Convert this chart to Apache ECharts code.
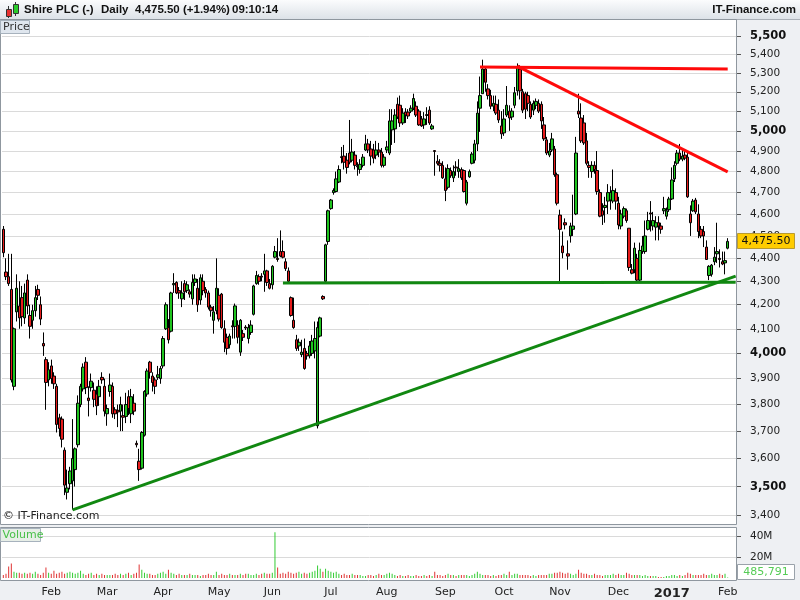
<!DOCTYPE html>
<html><head><meta charset="utf-8">
<script src="https://cdn.jsdelivr.net/npm/echarts@6/dist/echarts.min.js"></script>
<style>html,body{margin:0;padding:0;background:#eef0f3}#c{width:800px;height:600px}</style>
</head><body><div id="c"></div>
<script>
// ---- DATA ----
// rows: [open, close, low, high], one per trading day starting 2016-01-06
const ohlc = [
[4530,4425,4405,4545],[4340,4320,4305,4400],[4320,4290,4280,4420],[4265,3895,3885,4420],[3870,4100,3855,4105],
[4170,4270,4130,4330],[4195,4145,4100,4300],[4230,4150,4110,4280],[4145,4250,4120,4290],[4305,4195,4160,4330],
[4155,4110,4060,4200],[4135,4175,4100,4200],[4175,4230,4150,4280],[4265,4240,4220,4285],[4200,4140,4115,4235],
[4040,4030,3990,4085],[3975,3885,3780,3985],[3895,3935,3870,3965],[3950,3900,3880,3975],[3910,3880,3860,3925],
[3870,3725,3695,3880],[3750,3710,3680,3765],[3745,3670,3640,3755],[3630,3505,3470,3640],[3480,3495,3455,3560],
[3510,3555,3490,3570],[3520,3600,3420,3745],[3560,3635,3500,3640],[3650,3805,3640,3835],[3800,3870,3790,3880],
[3860,3945,3850,3960],[3965,3865,3840,3985],[3825,3815,3755,3870],[3865,3890,3850,3920],[3855,3820,3790,3885],
[3840,3795,3760,3870],[3830,3870,3795,3895],[3905,3895,3880,3925],[3870,3775,3755,3900],[3765,3785,3720,3800],
[3850,3875,3830,3920],[3870,3765,3750,3885],[3780,3765,3745,3790],[3778,3772,3715,3800],[3775,3800,3700,3830],
[3758,3752,3700,3800],[3755,3800,3730,3845],[3830,3785,3760,3855],[3765,3830,3730,3860],[3805,3775,3760,3840],
[3655,3650,3640,3665],[3590,3560,3520,3635],[3565,3695,3560,3700],[3685,3850,3680,3855],[3840,3930,3830,3940],
[3965,3925,3900,3970],[3910,3885,3850,3925],[3895,3870,3840,3905],[3905,3915,3895,3950],[3900,3940,3880,3950],
[3950,4060,3940,4070],[4100,4200,4095,4210],[4105,4055,4040,4140],[4090,4250,4085,4255],[4285,4290,4250,4335],
[4295,4250,4245,4300],[4260,4250,4225,4275],[4225,4250,4190,4300],[4290,4255,4220,4305],[4260,4285,4250,4300],
[4255,4245,4230,4265],[4225,4295,4200,4330],[4295,4310,4280,4330],[4270,4200,4170,4310],[4220,4315,4200,4330],
[4300,4260,4240,4330],[4265,4250,4230,4275],[4250,4190,4180,4260],[4190,4175,4150,4200],[4135,4170,4080,4195],
[4175,4270,4160,4400],[4240,4140,4130,4270],[4245,4105,4100,4250],[4100,4045,4005,4135],[4065,4020,3995,4080],
[4035,4070,4020,4080],[4112,4108,4060,4135],[4110,4195,4060,4205],[4115,4065,4040,4135],[4005,4135,3990,4140],
[4080,4065,4050,4095],[4107,4103,4095,4115],[4060,4105,4040,4120],[4085,4115,4075,4135],[4160,4280,4155,4285],
[4290,4325,4285,4345],[4320,4300,4285,4330],[4322,4318,4300,4335],[4330,4345,4255,4420],[4345,4295,4280,4350],
[4290,4270,4265,4310],[4285,4365,4265,4370],[4405,4430,4400,4455],[4400,4395,4385,4490],[4430,4410,4405,4525],
[4430,4405,4400,4480],[4385,4355,4345,4400],[4345,4300,4290,4360],[4230,4155,4150,4235],[4135,4105,4100,4230],
[4055,4020,4010,4075],[4030,4045,4010,4060],[3995,4005,3985,4055],[4020,3940,3935,4060],[4000,3990,3975,4010],
[3990,4030,3980,4050],[4000,4050,3990,4075],[4010,4060,3980,4130],[3720,4105,3710,4130],[4070,4145,4065,4150],
[4235,4225,4220,4240],[4300,4460,4290,4465],[4475,4615,4460,4620],[4625,4665,4620,4670],[4700,4710,4690,4720],
[4705,4765,4700,4800],[4750,4810,4745,4830],[4872,4868,4840,4920],[4875,4845,4810,4930],[4855,4820,4790,4890],
[4890,4845,4835,5055],[4855,4895,4845,4960],[4880,4830,4810,4900],[4827,4823,4780,4845],[4810,4835,4790,4860],
[4830,4870,4820,4885],[4905,4935,4900,4980],[4935,4905,4890,4960],[4910,4875,4830,4950],[4905,4865,4840,4935],
[4880,4905,4860,4950],[4905,4895,4870,4940],[4895,4830,4820,4915],[4830,4870,4820,4885],[4905,4920,4890,4950],
[4890,5050,4880,5110],[5005,5050,4930,5110],[5010,5080,4940,5110],[5135,5070,5060,5170],[5130,5040,5020,5180],
[5040,5090,5030,5115],[5095,5080,5040,5115],[5095,5075,5060,5110],[5100,5115,5090,5130],[5115,5165,5105,5190],
[5125,5080,5070,5150],[5100,5030,5025,5110],[5060,5025,5020,5075],[5030,5060,5010,5095],[5082,5078,5030,5120],
[5105,5040,5030,5125],[5010,5025,5005,5035],[4902,4898,4780,4905],[4850,4840,4830,4880],[4840,4830,4800,4860],
[4830,4770,4765,4850],[4765,4710,4660,4820],[4725,4815,4715,4835],[4805,4780,4770,4820],[4770,4800,4750,4830],
[4822,4818,4780,4850],[4800,4815,4770,4860],[4810,4770,4760,4820],[4805,4705,4700,4810],[4650,4750,4640,4760],
[4775,4800,4770,4810],[4840,4885,4835,4895],[4855,4935,4840,4955],[4935,5090,4900,5150],[5115,5180,4995,5280],
[5190,5320,5190,5370],[5320,5250,5200,5330],[5215,5180,5160,5240],[5180,5125,5110,5210],[5125,5140,5100,5180],
[5135,5090,5080,5180],[5105,5055,5040,5160],[5025,4985,4960,5100],[4990,5060,4975,5110],[5080,5130,5070,5230],
[5100,5065,5000,5130],[5070,5100,5055,5115],[5130,5195,5115,5225],[5205,5330,5180,5350],[5320,5205,5160,5340],
[5200,5105,5090,5215],[5190,5110,5060,5200],[5180,5140,5100,5200],[5135,5070,5060,5150],[5105,5140,5080,5155],
[5130,5150,5110,5165],[5140,5100,5090,5160],[5135,5050,5010,5150],[5030,4960,4950,5070],[4955,4890,4880,4970],
[4880,4900,4870,4940],[4905,4960,4895,4990],[4910,4785,4775,4925],[4785,4650,4640,4795],[4595,4530,4300,4620],
[4455,4425,4400,4520],[4560,4550,4530,4580],[4420,4410,4350,4480],[4500,4545,4470,4560],[4530,4545,4500,4690],
[4600,4890,4595,4970],[5100,5085,5065,5190],[5065,4950,4940,5140],[5040,4940,4930,5080],[4950,4840,4830,4990],
[4830,4820,4770,4850],[4800,4830,4770,4850],[4830,4810,4790,4850],[4805,4705,4690,4900],[4700,4590,4585,4715],
[4615,4595,4550,4650],[4630,4640,4560,4680],[4660,4700,4600,4740],[4665,4700,4620,4730],[4660,4710,4650,4810],
[4700,4660,4620,4720],[4650,4550,4530,4680],[4545,4600,4530,4620],[4590,4625,4580,4635],[4615,4570,4560,4625],
[4535,4360,4345,4535],[4350,4335,4330,4375],[4350,4445,4335,4470],[4400,4305,4300,4420],[4305,4435,4300,4470],
[4430,4455,4420,4500],[4430,4500,4420,4570],[4530,4570,4525,4610],[4605,4600,4520,4660],[4545,4570,4525,4610],
[4540,4560,4480,4590],[4560,4545,4480,4590],[4545,4530,4510,4560],[4615,4625,4600,4680],[4590,4615,4575,4630],
[4620,4670,4610,4680],[4670,4760,4665,4820],[4765,4830,4750,4850],[4840,4890,4830,4905],[4890,4860,4850,4935],
[4860,4875,4850,4905],[4880,4865,4855,4905],[4870,4680,4675,4890],[4600,4560,4500,4640],[4615,4660,4610,4670],
[4665,4610,4600,4675],[4600,4520,4490,4645],[4530,4500,4490,4545],[4520,4500,4450,4545],[4450,4395,4395,4480],
[4325,4365,4305,4370],[4330,4370,4320,4375],[4385,4405,4370,4450],[4420,4430,4380,4560],[4400,4395,4360,4440],
[4385,4375,4370,4430],[4380,4390,4330,4430],[4445,4475.5,4440,4490]
];
// daily volume, millions of shares
const volumes = [
3,4,11,14,6,5,5,4,5,4,5,4,6,4,3,5,10,5,
4,7,4,5,6,4,5,6,5,4,5,7,4,3,4,5,3,4,3,4,3,
3,3,3,4,3,4,3,4,5,3,4,5,13,8,5,4,4,3,3,4,5,
6,4,8,5,4,3,4,3,3,3,4,3,3,3,2,3,3,4,3,3,6,
3,4,3,3,4,3,3,3,4,3,4,4,3,3,4,3,4,5,4,4,
5,44,10,4,5,4,6,5,4,5,6,4,5,4,5,6,7,12,9,6,9,7,
6,5,6,4,3,4,3,3,4,3,3,3,2,2,3,3,2,3,4,3,3,
4,5,4,3,2,3,2,2,3,2,2,3,2,2,3,2,3,2,6,3,3,2,
3,4,3,3,2,3,3,3,3,2,3,4,6,4,3,3,3,2,3,2,3,3,
4,3,6,3,4,4,3,3,3,3,2,3,2,3,3,3,3,4,4,5,5,
6,5,4,5,4,3,4,8,5,4,4,3,3,4,3,3,2,3,3,3,4,3,
4,3,3,5,4,3,3,3,3,2,3,2,2,2,2,1,1,1,2,2,
3,3,2,3,2,3,5,4,3,3,3,3,4,3,3,4,3,3,4,3,4,
0.485791
];
const monthTickLabels = ['Feb','Mar','Apr','May','Jun','Jul','Aug','Sep','Oct','Nov','Dec','2017','Feb'];
const priceTicks = [3400,3500,3600,3700,3800,3900,4000,4100,4200,4300,4400,4500,4600,4700,4800,4900,5000,5100,5200,5300,5400,5500];
const boldPriceTicks = [3500,4000,5000,5500];
const volumeTicks = [20,40];
const ukHolidays = ['2016-01-01','2016-03-25','2016-03-28','2016-05-02','2016-05-30','2016-08-29','2016-12-26','2016-12-27','2017-01-02'];
// trend lines drawn on the reference: [dayIndex, price] endpoints
const redTop = [[179,5331],[272,5320]];
const redFalling = [[193,5335],[272,4799]];
const greenSupport = [[105,4293],[275,4296]];
const greenRising = [[26,3419],[275,4322]];
const headerTitle = 'Shire PLC (-)';
const headerPeriod = 'Daily';
const headerQuote = '4,475.50 (+1.94%)';
const headerTime = '09:10:14';

// ---- trading-day categories (3 empty days of right margin) ----
const dates = [];
(function(){
  const d = new Date(Date.UTC(2016,0,6));
  while (dates.length < ohlc.length + 3) {
    const s = d.toISOString().slice(0,10);
    const wd = d.getUTCDay();
    if (wd !== 0 && wd !== 6 && ukHolidays.indexOf(s) < 0) dates.push(s);
    d.setUTCDate(d.getUTCDate()+1);
  }
})();
const labelAt = new Map();
(function(){
  let k = 0;
  for (let i = 1; i < ohlc.length; i++) {
    if (dates[i].slice(5,7) !== dates[i-1].slice(5,7)) {
      const t = monthTickLabels[k++];
      labelAt.set(i, t === '2017' ? '{y|2017}' : t);
    }
  }
})();

const FONT = 'DejaVu Sans, Verdana, sans-serif';
const GREEN = '#1fc41f', RED = '#e61c1c';
const fmt = v => Math.round(v).toLocaleString('en-US');
const seg = (p, c) => [{coord:[dates[p[0][0]], p[0][1]], lineStyle:{color:c, width:3, type:'solid'}}, {coord:[dates[p[1][0]], p[1][1]]}];

const chart = echarts.init(document.getElementById('c'), null, {renderer:'canvas'});
chart.setOption({
  animation:false,
  backgroundColor:'#eef0f3',
  grid:[
    {left:2, right:63, top:20, height:504, show:true, backgroundColor:'#ffffff', borderWidth:0},
    {left:2, right:63, top:528, height:50, show:true, backgroundColor:'#ffffff', borderWidth:0}
  ],
  xAxis:[
    {type:'category', gridIndex:0, data:dates, boundaryGap:true, axisLine:{show:false}, axisTick:{show:false}, axisLabel:{show:false}, splitLine:{show:false}},
    {type:'category', gridIndex:1, data:dates, boundaryGap:true, axisLine:{show:false}, axisTick:{show:false}, splitLine:{show:false},
     axisLabel:{interval:(i)=>labelAt.has(i), formatter:(v,i)=>labelAt.get(i)||'', color:'#222', fontSize:11, fontFamily:FONT, margin:9,
       rich:{y:{fontWeight:'bold', fontSize:13, fontFamily:FONT, color:'#222'}}}}
  ],
  yAxis:[
    {type:'log', logBase:10, gridIndex:0, position:'right', min:3371, max:5588,
     axisLine:{show:false},
     axisTick:{show:true, length:4, customValues:priceTicks, lineStyle:{color:'#555'}},
     axisLabel:{customValues:priceTicks, margin:13, color:'#222', fontSize:10.5, fontFamily:FONT,
       formatter:(v)=>{const r=Math.round(v); return boldPriceTicks.indexOf(r)>=0 ? '{b|'+fmt(r)+'}' : fmt(r);},
       rich:{b:{fontWeight:'bold', fontSize:11.5, fontFamily:FONT, color:'#111'}}},
     splitLine:{show:true, lineStyle:{color:'#dadada', width:1}}, minorSplitLine:{show:false}},
    {type:'value', gridIndex:1, position:'right', min:0, max:48,
     axisLine:{show:false},
     axisTick:{show:true, length:4, customValues:volumeTicks, lineStyle:{color:'#555'}},
     axisLabel:{customValues:volumeTicks, margin:13, color:'#222', fontSize:10.5, fontFamily:FONT, formatter:(v)=>v+'M'},
     splitLine:{show:true, lineStyle:{color:'#dadada', width:1}}}
  ],
  series:[
    {type:'candlestick', xAxisIndex:0, yAxisIndex:0, data:ohlc, barWidth:3,
     itemStyle:{color:GREEN, color0:RED, borderColor:'#000', borderColor0:'#000', borderWidth:1},
     markLine:{silent:true, symbol:['none','none'], label:{show:false}, animation:false,
       lineStyle:{type:'solid', width:3},
       data:[seg(redTop,'#ff0a0a'), seg(redFalling,'#ff0a0a'), seg(greenSupport,'#118811'), seg(greenRising,'#118811')]}},
    {type:'bar', xAxisIndex:1, yAxisIndex:1, barWidth:1,
     data:volumes.map((v,i)=>({value:v, itemStyle:{color: ohlc[i][1]>=ohlc[i][0] ? '#33cc33' : '#e03333'}}))}
  ]
});

const lastClose = ohlc[ohlc.length-1][1];
const lastVol = volumes[volumes.length-1];
const yPrice = chart.convertToPixel({yAxisIndex:0}, lastClose);
let yVol = chart.convertToPixel({yAxisIndex:1}, lastVol);
yVol = Math.min(yVol, 572);
const HF = 'Liberation Sans, Arial, sans-serif';
chart.setOption({graphic:{elements:[
  {type:'rect', shape:{x:0,y:0,width:800,height:19}, style:{fill:new echarts.graphic.LinearGradient(0,0,0,1,[{offset:0,color:'#fbfcfd'},{offset:1,color:'#dde2e8'}]), stroke:null}, z:50},
  {type:'line', shape:{x1:0,y1:19.5,x2:800,y2:19.5}, style:{stroke:'#aab0b8', lineWidth:1}, z:51},
  // small candle icon
  {type:'line', shape:{x1:8.5,y1:6,x2:8.5,y2:18}, style:{stroke:'#333'}, z:52},
  {type:'rect', shape:{x:6.5,y:9.5,width:5,height:7}, style:{fill:'#e83030', stroke:'#333'}, z:53},
  {type:'line', shape:{x1:15.5,y1:2,x2:15.5,y2:16}, style:{stroke:'#333'}, z:52},
  {type:'rect', shape:{x:13.5,y:4.5,width:5,height:9}, style:{fill:'#2ccc2c', stroke:'#333'}, z:53},
  {type:'text', style:{text:headerTitle, x:24, y:10, font:'bold 11.5px '+HF, fill:'#111', verticalAlign:'middle'}, z:55},
  {type:'text', style:{text:headerPeriod, x:101, y:10, font:'bold 11.5px '+HF, fill:'#111', verticalAlign:'middle'}, z:55},
  {type:'text', style:{text:headerQuote, x:135, y:10, font:'bold 11.5px '+HF, fill:'#111', verticalAlign:'middle'}, z:55},
  {type:'text', style:{text:headerTime, x:232, y:10, font:'bold 11.5px '+HF, fill:'#111', verticalAlign:'middle'}, z:55},
  {type:'text', style:{text:'IT-Finance.com', x:796, y:10, font:'bold 11.5px '+HF, fill:'#111', align:'right', verticalAlign:'middle'}, z:55},
  // pane frames
  {type:'rect', shape:{x:0,y:20,width:2,height:505}, style:{fill:'#fff'}, z:-5},
  {type:'rect', shape:{x:0,y:528,width:2,height:52}, style:{fill:'#fff'}, z:-5},
  {type:'rect', shape:{x:0,y:578,width:737,height:3}, style:{fill:'#fff'}, z:-5},
  {type:'rect', shape:{x:0.5,y:19.5,width:736,height:505}, style:{fill:null, stroke:'#8f979f', lineWidth:1}, z:60},
  {type:'rect', shape:{x:0.5,y:527.5,width:736,height:53}, style:{fill:null, stroke:'#8f979f', lineWidth:1}, z:60},
  // pane titles
  {type:'rect', shape:{x:0.5,y:20.5,width:29,height:13}, style:{fill:'#dfe6ee', stroke:'#a7b2bd'}, z:61},
  {type:'text', style:{text:'Price', x:3, y:27.5, font:'11px '+FONT, fill:'#333', verticalAlign:'middle'}, z:62},
  {type:'rect', shape:{x:0.5,y:528.5,width:40,height:13}, style:{fill:'#e7eee7', stroke:'#a7b2bd'}, z:61},
  {type:'text', style:{text:'Volume', x:2.5, y:535.5, font:'11px '+FONT, fill:'#48c048', verticalAlign:'middle'}, z:62},
  {type:'text', style:{text:'\u00a9 IT-Finance.com', x:3, y:516.5, font:'11px '+FONT, fill:'#222', verticalAlign:'middle'}, z:62},
  // last value boxes
  {type:'rect', shape:{x:737.5,y:Math.round(yPrice)-7.5,width:57,height:15}, style:{fill:'#ffcc00', stroke:'#b89a30'}, z:70},
  {type:'text', style:{text:lastClose.toLocaleString('en-US',{minimumFractionDigits:2}), x:766, y:Math.round(yPrice), font:'11px '+FONT, fill:'#111', align:'center', verticalAlign:'middle'}, z:71},
  {type:'rect', shape:{x:737.5,y:Math.round(yVol)-7.5,width:57,height:15}, style:{fill:'#ffffff', stroke:'#9aa2aa'}, z:70},
  {type:'text', style:{text:Math.round(lastVol*1e6).toLocaleString('en-US'), x:766, y:Math.round(yVol), font:'11px '+FONT, fill:'#55cc55', align:'center', verticalAlign:'middle'}, z:71}
]}});
</script></body></html>
